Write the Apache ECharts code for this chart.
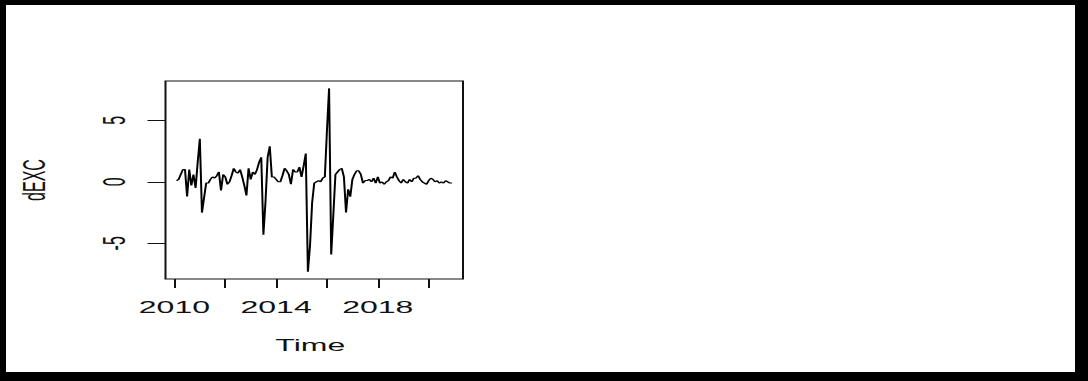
<!DOCTYPE html>
<html>
<head>
<meta charset="utf-8">
<script src="https://cdn.jsdelivr.net/npm/echarts@6/dist/echarts.min.js"></script>
<style>
  html, body { margin: 0; padding: 0; width: 1088px; height: 381px; background: #000; overflow: hidden; }
  #paper { position: absolute; left: 6px; top: 5px; width: 1069px; height: 367px; background: #fff; }
  #chart { position: absolute; left: 0; top: 0; width: 544px; height: 381px; transform: scaleX(2); transform-origin: 0 0; }
</style>
</head>
<body>
<div id="paper"></div>
<div id="chart"></div>
<script>
// Monthly differenced series dEXC, starting Feb 2010
const startYear = 2010;
const startMonth = 1; // 0-based month index: Feb
const dEXC = [
  0.1, 0.2, 0.6, 1.0, 1.0, -1.2, 1.0, -0.3, 0.6, -0.5,
  1.6, 3.5, -2.5, -1.3, -0.1, -0.1, 0.2, 0.4, 0.3, 0.5,
  0.8, -0.7, 0.6, 0.4, -0.2, 0.0, 0.5, 1.1, 0.8, 0.7,
  1.0, 0.4, -0.3, -1.1, 1.1, 0.2, 0.8, 0.6, 1.0, 1.6,
  2.0, -4.3, -1.6, 2.0, 2.9, 0.4, 0.4, 0.2, 0.0, 0.0,
  0.5, 1.1, 0.9, 0.6, -0.2, 1.0, 0.8, 0.8, 1.2, 0.4,
  1.3, 2.3, -7.3, -5.2, -1.7, -0.1, 0.0, 0.1, 0.0, 0.3,
  0.4, 4.2, 7.6, -5.9, -2.7, 0.6, 0.8, 1.0, 1.1, 0.4,
  -2.5, -0.6, -1.2, 0.2, 0.6, 0.9, 0.9, 0.6, -0.1, 0.1,
  0.1, 0.2, 0.0, 0.3, -0.1, 0.4, -0.1, 0.0, -0.2, 0.0,
  0.1, 0.4, 0.3, 0.8, 0.4, 0.1, -0.1, 0.2, 0.0, -0.1,
  0.2, 0.0, 0.3, 0.3, 0.5, 0.2, 0.0, -0.1, -0.2, 0.1,
  0.3, 0.2, 0.0, 0.1, -0.1, 0.0, -0.1, 0.1, 0.0, -0.1,
  -0.1
];
const xTicks = [2010, 2012, 2014, 2016, 2018, 2020];
const xLabels = [2010, 2014, 2018];
const yTicks = [-5, 0, 5];

const points = dEXC.map((v, i) => [startYear + (startMonth + i) / 12, v]);

const chart = echarts.init(document.getElementById('chart'), null, { renderer: 'svg' });
const font = 'Liberation Sans, Arial, sans-serif';
chart.setOption({
  animation: false,
  backgroundColor: 'transparent',
  grid: {
    left: 82.75, top: 81, width: 148.75, height: 198,
    show: true, borderColor: '#111', borderWidth: 1, backgroundColor: 'transparent'
  },
  xAxis: {
    type: 'value', min: 2009.65, max: 2021.35,
    name: 'Time', nameLocation: 'middle', nameGap: 58,
    nameTextStyle: { fontFamily: font, fontSize: 16, color: '#111', padding: [0, 4, 0, 0] },
    axisLine: { show: false, onZero: false },
    axisTick: { show: true, length: 9, customValues: xTicks, lineStyle: { color: '#111', width: 1 } },
    axisLabel: { customValues: xLabels, margin: 20, fontFamily: font, fontSize: 16, color: '#111',
      formatter: v => String(v) },
    splitLine: { show: false }
  },
  yAxis: {
    type: 'value', min: -7.9, max: 8.2,
    name: 'dEXC', nameLocation: 'middle', nameGap: 58,
    nameTextStyle: { fontFamily: font, fontSize: 16, color: '#111' },
    axisLine: { show: false, onZero: false },
    axisTick: { show: true, length: 9, customValues: yTicks, lineStyle: { color: '#111', width: 1 } },
    axisLabel: { customValues: yTicks, rotate: 90, margin: 18, fontFamily: font, fontSize: 16, color: '#111',
      formatter: v => String(v) },
    splitLine: { show: false }
  },
  series: [{
    type: 'line', data: points, showSymbol: false, symbol: 'none',
    lineStyle: { color: '#000', width: 1 }, silent: true
  }]
});
</script>
</body>
</html>
